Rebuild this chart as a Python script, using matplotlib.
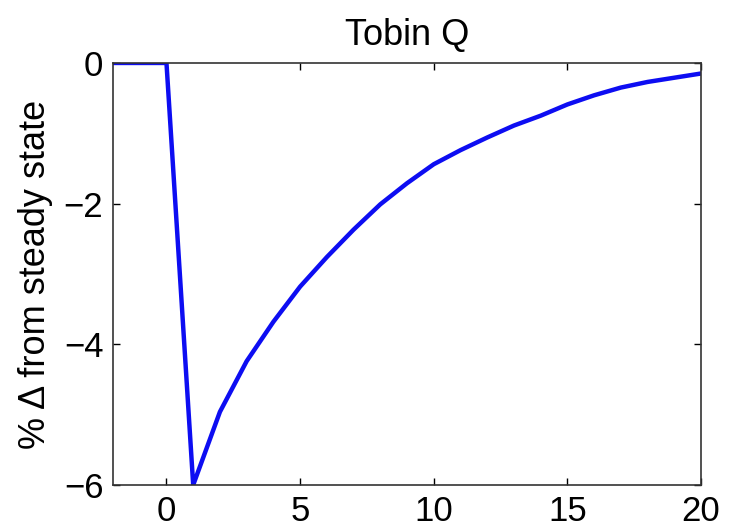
import matplotlib.pyplot as plt
import numpy as np

plt.rcParams['font.family'] = ['Liberation Sans', 'DejaVu Sans']

# impulse response, quarters after shock
periods = np.arange(-2, 21)
tobin_q = [0.0, 0.0, 0.0, -6.0, -4.96, -4.24, -3.68, -3.18, -2.76, -2.37,
           -2.01, -1.71, -1.44, -1.24, -1.06, -0.89, -0.75, -0.59, -0.46,
           -0.35, -0.27, -0.21, -0.15]

fig = plt.figure(figsize=(7.31, 5.29), dpi=100)
ax = fig.add_axes([0.1546, 0.0832, 0.8044, 0.7978])
ax.plot(periods, tobin_q, color=(0.05, 0.05, 0.95), linewidth=3.2)

ax.set_xlim(-2, 20)
ax.set_ylim(-6, 0)
ax.set_xticks([0, 5, 10, 15, 20])
ax.set_yticks([-6, -4, -2, 0])
ax.set_yticklabels(['\u22126', '\u22124', '\u22122', '0'])
ax.tick_params(direction='in', length=5, width=1, top=True, right=True,
               labelsize=25, pad=7)
for s in ax.spines.values():
    s.set_linewidth(1.2)
    s.set_color('#333333')

ax.set_title('Tobin Q', fontsize=26, pad=13)
ax.set_ylabel('% \u0394 from steady state', fontsize=26, labelpad=8)

fig.savefig('out.png', dpi=100)
